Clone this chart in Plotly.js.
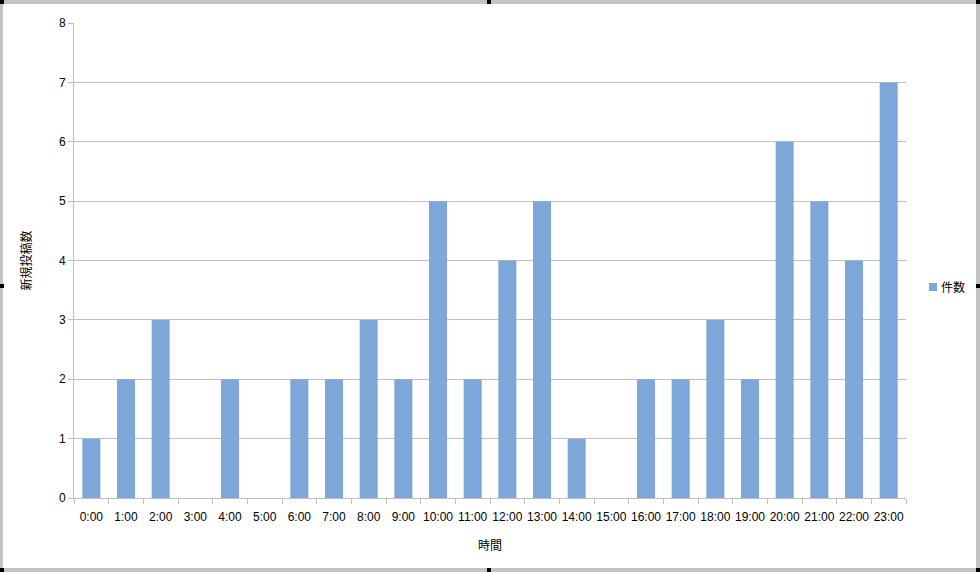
<!DOCTYPE html>
<html>
<head>
<meta charset="utf-8">
<script src="https://cdn.plot.ly/plotly-3.0.1.min.js"></script>
<style>
html,body{margin:0;padding:0;background:#fff;}
#wrap{position:relative;width:980px;height:572px;}
#chart{width:980px;height:572px;}
#frame{position:absolute;left:0;top:0;width:980px;height:572px;box-sizing:border-box;border:3px solid #c3c3c3;border-top-width:4px;border-bottom-width:4px;border-right-width:4px;pointer-events:none;}
.m{position:absolute;background:#000;width:4px;height:4px;pointer-events:none;}
</style>
</head>
<body>
<div id="wrap">
<div id="chart"></div>
<div id="frame"></div>
<div class="m" style="left:0;top:0"></div>
<div class="m" style="left:487px;top:0"></div>
<div class="m" style="left:976px;top:0"></div>
<div class="m" style="left:0;top:284px"></div>
<div class="m" style="left:976px;top:284px"></div>
<div class="m" style="left:0;top:568px"></div>
<div class="m" style="left:487px;top:568px"></div>
<div class="m" style="left:976px;top:568px"></div>
</div>
<script>
var categories = ["0:00","1:00","2:00","3:00","4:00","5:00","6:00","7:00","8:00","9:00","10:00","11:00","12:00","13:00","14:00","15:00","16:00","17:00","18:00","19:00","20:00","21:00","22:00","23:00"];
var counts = [1,2,3,0,2,0,2,2,3,2,5,2,4,5,1,0,2,2,3,2,6,5,4,7];
var seriesName = "件数";
var xTitle = "時間";
var yTitle = "新規投稿数";
var barColor = "#7da7d9";

var fontFam = "Liberation Sans, Arial, Noto Sans CJK JP, sans-serif";
var plotL = 74, plotR = 906;
var pw = plotR - plotL;
function px2paper(x){ return (x - plotL) / pw; }

Plotly.newPlot("chart", [{
  type: "bar",
  x: categories,
  y: counts,
  name: seriesName,
  marker: {color: barColor},
  showlegend: false
}], {
  width: 980, height: 572,
  margin: {l: 74, r: 74, t: 23, b: 74, pad: 0, autoexpand: false},
  paper_bgcolor: "#fff",
  plot_bgcolor: "#fff",
  font: {family: fontFam, size: 12, color: "#000"},
  bargap: 0.48,
  showlegend: false,
  xaxis: {
    type: "category",
    title: {text: xTitle, font: {size: 12}, standoff: 18},
    showline: true, linecolor: "#bfbfbf", linewidth: 1,
    ticks: "outside", ticklen: 5, tickcolor: "#bfbfbf", tickson: "boundaries",
    ticklabelstandoff: 8,
    tickangle: 0, automargin: false,
    tickfont: {size: 12}, showgrid: false, zeroline: false, fixedrange: true
  },
  yaxis: {
    range: [0, 8], dtick: 1,
    title: {text: yTitle, font: {size: 12}, standoff: 24},
    showline: true, linecolor: "#bfbfbf", linewidth: 1,
    ticks: "outside", ticklen: 5, tickcolor: "#bfbfbf", automargin: false,
    gridcolor: "#c0c0c0", gridwidth: 1, zeroline: false,
    tickfont: {size: 12}, fixedrange: true
  },
  shapes: [{
    type: "rect", xref: "paper", yref: "paper",
    x0: px2paper(929), x1: px2paper(937),
    y0: (498 - 291) / 475, y1: (498 - 283) / 475,
    fillcolor: barColor, line: {width: 0}
  }],
  annotations: [{
    text: seriesName, xref: "paper", yref: "paper",
    x: px2paper(939), xanchor: "left",
    y: (498 - 287) / 475, yanchor: "middle",
    showarrow: false, font: {size: 12, color: "#000"}
  }]
}, {displayModeBar: false, staticPlot: true});
</script>
</body>
</html>
